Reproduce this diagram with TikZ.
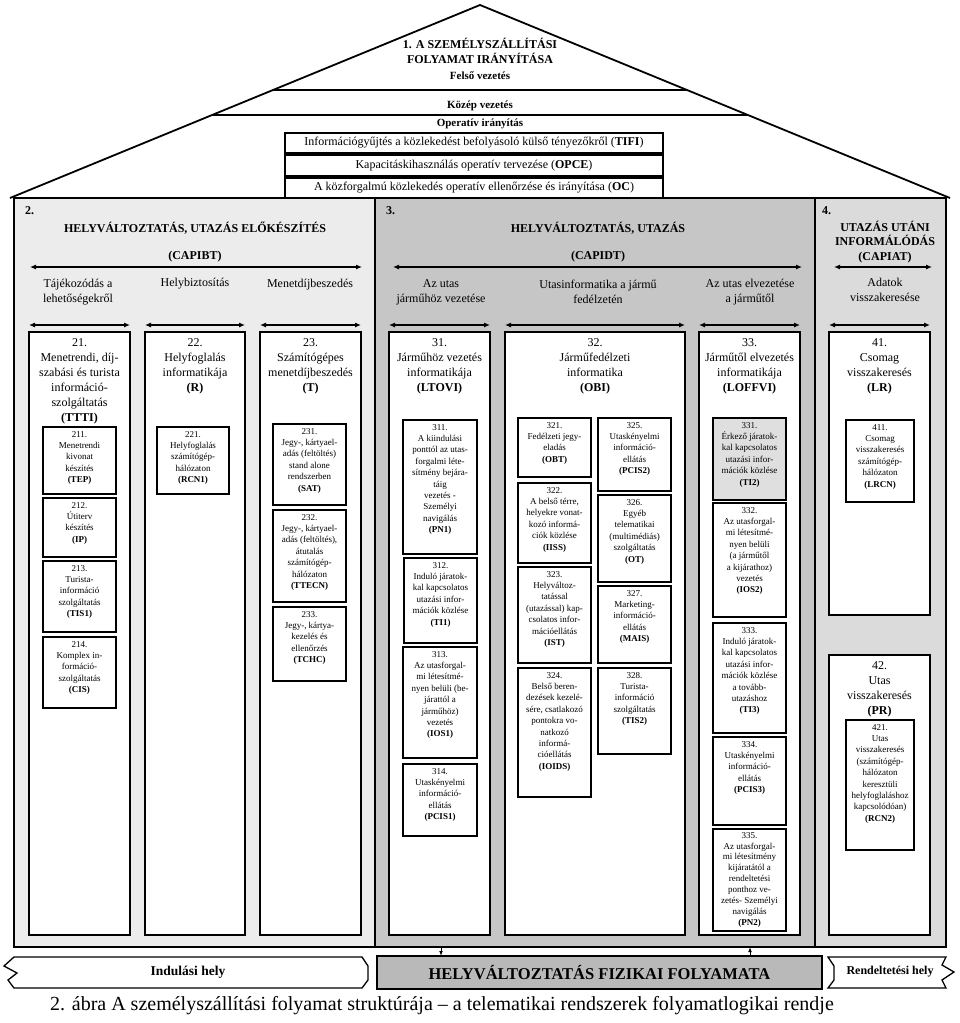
\documentclass[tikz,border=0pt]{standalone}
\usepackage{fontspec}
\setmainfont{Liberation Serif}
\usetikzlibrary{arrows.meta}
\tikzset{
    boxline/.style={draw, line width=1.3pt, fill=white},
    txt/.style={align=center, font=\fontsize{9}{11.4}\selectfont, inner sep=1pt},
    ttl/.style={align=center, font=\fontsize{12}{15}\selectfont, inner sep=1pt},
    head/.style={align=center, font=\fontsize{12}{14.5}\selectfont\bfseries, inner sep=1pt},
    span/.style={{Latex[length=6pt,width=5pt]}-{Latex[length=6pt,width=5pt]}, line width=1.1pt},
}
% box with text at its top
\newcommand{\subbox}[6]{%
    \draw[boxline] (#2,#3) rectangle (#4,#5);
    \node[txt, anchor=north] (#1) at ({(#2+#4)/2},#3+3) {#6};}
\newcommand{\colbox}[6]{%
    \draw[span] (#2,325) -- (#4,325);
    \draw[boxline, line width=1.6pt] (#2,#3) rectangle (#4,#5);
    \node[ttl, anchor=north] (#1) at ({(#2+#4)/2},#3+5) {#6};}
\begin{document}
\begin{tikzpicture}[x=1pt, y=-1pt]
    \useasboundingbox (0,0) rectangle (960,1023);
    % roof
    \draw[line width=1.8pt, line join=miter] (10,198) -- (480,5) -- (950,198);
    \draw[line width=1.2pt] (273,90) -- (687,90);
    \draw[line width=1.2pt] (212,115) -- (748,115);
    \node[head] (roof) at (480,51) {1. A SZEMÉLYSZÁLLÍTÁSI\\FOLYAMAT IRÁNYÍTÁSA};
    \node[head, font=\fontsize{11}{13}\selectfont\bfseries] (felso) at (480,76) {Felső vezetés};
    \node[head, font=\fontsize{11}{13}\selectfont\bfseries] (kozep) at (480,106) {Közép vezetés};
    \node[head, font=\fontsize{11}{13}\selectfont\bfseries] (oper) at (480,124) {Operatív irányítás};
    \draw[boxline] (285,133) rectangle (663,153);
    \node[font=\fontsize{12}{13}\selectfont] (tifi) at (474,143) {Információgyűjtés a közlekedést befolyásoló külső tényezőkről (\textbf{TIFI})};
    \draw[boxline] (285,155) rectangle (663,176);
    \node[font=\fontsize{12}{13}\selectfont] (opce) at (474,165.5) {Kapacitáskihasználás operatív tervezése (\textbf{OPCE})};
    \draw[boxline] (285,178) rectangle (663,198);
    \node[font=\fontsize{12}{13}\selectfont] (oc) at (474,188) {A közforgalmú közlekedés operatív ellenőrzése és irányítása (\textbf{OC})};

    % sections
    \fill[gray!15] (14,198) rectangle (375,947);
    \fill[gray!45] (375,198) rectangle (815,947);
    \fill[gray!28] (815,198) rectangle (946,947);
    \draw[line width=2.2pt] (14,198) rectangle (946,947);
    \draw[line width=2.2pt] (375,198) -- (375,947);
    \draw[line width=2.2pt] (815,198) -- (815,947);

    \node[head, anchor=west] (s2) at (24,211) {2.};
    \node[head] (s2h) at (195,228) {HELYVÁLTOZTATÁS, UTAZÁS ELŐKÉSZÍTÉS};
    \node[head] (s2c) at (195,257) {(CAPIBT)};
    \draw[span] (30,267) -- (362,267);
    \node[ttl] (s2a) at (78,292) {Tájékozódás a\\lehetőségekről};
    \node[ttl] (s2b) at (195,284) {Helybiztosítás};
    \node[ttl] (s2d) at (310,285) {Menetdíjbeszedés};

    \node[head, anchor=west] (s3) at (385,211) {3.};
    \node[head] (s3h) at (598,228) {HELYVÁLTOZTATÁS, UTAZÁS};
    \node[head] (s3c) at (598,257) {(CAPIDT)};
    \draw[span] (393,267) -- (802,267);
    \node[ttl] (s3a) at (441,292) {Az utas\\járműhöz vezetése};
    \node[ttl] (s3b) at (598,292) {Utasinformatika a jármű\\fedélzetén};
    \node[ttl] (s3d) at (750,292) {Az utas elvezetése\\a járműtől};

    \node[head, anchor=west] (s4) at (821,211) {4.};
    \node[head] (s4h) at (885,242) {UTAZÁS UTÁNI\\INFORMÁLÓDÁS\\(CAPIAT)};
    \draw[span] (834,267) -- (932,267);
    \node[ttl] (s4a) at (885,290) {Adatok\\visszakeresése};

    % columns
    \colbox{c21}{29}{332}{130}{935}{21.\\Menetrendi, díj-\\szabási és turista\\információ-\\szolgáltatás\\\textbf{(TTTI)}}
    \colbox{c22}{145}{332}{245}{935}{22.\\Helyfoglalás\\informatikája\\\textbf{(R)}}
    \colbox{c23}{260}{332}{361}{935}{23.\\Számítógépes\\menetdíjbeszedés\\\textbf{(T)}}
    \colbox{c31}{389}{332}{490}{935}{31.\\Járműhöz vezetés\\informatikája\\\textbf{(LTOVI)}}
    \colbox{c32}{505}{332}{685}{935}{32.\\Járműfedélzeti\\informatika\\\textbf{(OBI)}}
    \colbox{c33}{699}{332}{800}{935}{33.\\Járműtől elvezetés\\informatikája\\\textbf{(LOFFVI)}}
    \colbox{c41}{829}{332}{930}{615}{41.\\Csomag\\visszakeresés\\\textbf{(LR)}}
    \draw[boxline, line width=1.6pt] (829,655) rectangle (930,935);
    \node[ttl, anchor=north] (c42) at (879.5,660) {42.\\Utas\\visszakeresés\\\textbf{(PR)}};

    % sub boxes
    \subbox{b211}{43}{427}{116}{494}{211.\\Menetrendi\\kivonat\\készítés\\\textbf{(TEP)}}
    \subbox{b212}{43}{498}{116}{557}{212.\\Útiterv\\készítés\\\textbf{(IP)}}
    \subbox{b213}{43}{561}{116}{632}{213.\\Turista-\\információ\\szolgáltatás\\\textbf{(TIS1)}}
    \subbox{b214}{43}{637}{116}{708}{214.\\Komplex in-\\formáció-\\szolgáltatás\\\textbf{(CIS)}}
    \subbox{b221}{157}{427}{229}{494}{221.\\Helyfoglalás\\számítógép-\\hálózaton\\\textbf{(RCN1)}}
    \subbox{b231}{273}{424}{346}{505}{231.\\Jegy-, kártyael-\\adás (feltöltés)\\stand alone\\rendszerben\\\textbf{(SAT)}}
    \subbox{b232}{273}{510}{346}{602}{232.\\Jegy-, kártyael-\\adás (feltöltés),\\átutalás\\számítógép-\\hálózaton\\\textbf{(TTECN)}}
    \subbox{b233}{273}{607}{346}{681}{233.\\Jegy-, kártya-\\kezelés és\\ellenőrzés\\\textbf{(TCHC)}}
    \subbox{b311}{403}{420}{477}{554}{311.\\A kiindulási\\ponttól az utas-\\forgalmi léte-\\sítmény bejára-\\táig\\vezetés -\\Személyi\\navigálás\\\textbf{(PN1)}}
    \subbox{b312}{404}{558}{477}{643}{312.\\Induló járatok-\\kal kapcsolatos\\utazási infor-\\mációk közlése\\\textbf{(TI1)}}
    \subbox{b313}{403}{647}{477}{758}{313.\\Az utasforgal-\\mi létesítmé-\\nyen belüli (be-\\járattól a\\járműhöz)\\vezetés\\\textbf{(IOS1)}}
    \subbox{b314}{403}{764}{477}{836}{314.\\Utaskényelmi\\információ-\\ellátás\\\textbf{(PCIS1)}}
    \subbox{b321}{518}{418}{591}{477}{321.\\Fedélzeti jegy-\\eladás\\\textbf{(OBT)}}
    \subbox{b322}{518}{483}{591}{563}{322.\\A belső térre,\\helyekre vonat-\\kozó informá-\\ciók közlése\\\textbf{(IISS)}}
    \subbox{b323}{518}{567}{591}{663}{323.\\Helyváltoz-\\tatással\\(utazással) kap-\\csolatos infor-\\mációellátás\\\textbf{(IST)}}
    \subbox{b324}{518}{668}{591}{797}{324.\\Belső beren-\\dezések kezelé-\\sére, csatlakozó\\pontokra vo-\\natkozó\\informá-\\cióellátás\\\textbf{(IOIDS)}}
    \subbox{b325}{598}{418}{671}{491}{325.\\Utaskényelmi\\információ-\\ellátás\\\textbf{(PCIS2)}}
    \subbox{b326}{598}{495}{671}{582}{326.\\Egyéb\\telematikai\\(multimédiás)\\szolgáltatás\\\textbf{(OT)}}
    \subbox{b327}{598}{586}{671}{663}{327.\\Marketing-\\információ-\\ellátás\\\textbf{(MAIS)}}
    \subbox{b328}{598}{668}{671}{754}{328.\\Turista-\\információ\\szolgáltatás\\\textbf{(TIS2)}}
    \draw[boxline, fill=gray!25] (713,418) rectangle (786,500);
    \node[txt, anchor=north] (b331) at (749.5,421) {331.\\Érkező járatok-\\kal kapcsolatos\\utazási infor-\\mációk közlése\\\textbf{(TI2)}};
    \subbox{b332}{713}{503}{786}{617}{332.\\Az utasforgal-\\mi létesítmé-\\nyen belüli\\(a járműtől\\a kijárathoz)\\vezetés\\\textbf{(IOS2)}}
    \subbox{b333}{713}{623}{786}{733}{333.\\Induló járatok-\\kal kapcsolatos\\utazási infor-\\mációk közlése\\a tovább-\\utazáshoz\\\textbf{(TI3)}}
    \subbox{b334}{713}{737}{786}{825}{334.\\Utaskényelmi\\információ-\\ellátás\\\textbf{(PCIS3)}}
    \draw[boxline] (713,829) rectangle (786,931);
    \node[txt, anchor=north, font=\fontsize{9}{10.9}\selectfont] (b335) at (749.5,831) {335.\\Az utasforgal-\\mi létesítmény\\kijáratától a\\rendeltetési\\ponthoz ve-\\zetés- Személyi\\navigálás\\\textbf{(PN2)}};
    \subbox{b411}{846}{420}{914}{502}{411.\\Csomag\\visszakeresés\\számítógép-\\hálózaton\\\textbf{(LRCN)}}
    \subbox{b421}{846}{720}{914}{850}{421.\\Utas\\visszakeresés\\(számítógép-\\hálózaton\\keresztüli\\helyfoglaláshoz\\kapcsolódóan)\\\textbf{(RCN2)}}

    % physical process strip
    \draw[line width=1.3pt, fill=white] (14,957) -- (362,957) -- (368,966) -- (368,980) -- (362,988) -- (14,988)
        -- (8,980) -- (17,973) -- (4,966) -- cycle;
    \node[head, font=\fontsize{13.5}{15}\selectfont\bfseries] (indul) at (188,972) {Indulási hely};
    \draw[line width=2.2pt, fill=gray!55] (377,956) rectangle (822,989);
    \node[head, font=\fontsize{16.5}{18}\selectfont\bfseries] (fiz) at (599.5,973) {HELYVÁLTOZTATÁS FIZIKAI FOLYAMATA};
    \draw[line width=1.3pt, fill=white] (828,957) -- (946,957) -- (942,965) -- (954,972) -- (942,980) -- (946,988)
        -- (828,988) -- (834,980) -- (834,966) -- cycle;
    \node[head, font=\fontsize{12}{13}\selectfont\bfseries] (rend) at (890,972) {Rendeltetési hely};
    \draw[-{Latex[length=5pt]}, line width=1pt] (441,947) -- (441,956);
    \draw[-{Latex[length=5pt]}, line width=1pt] (750,956) -- (750,947);

    \node[font=\fontsize{20}{22}\selectfont] (caption) at (442,1006) {2. ábra A személyszállítási folyamat struktúrája – a telematikai rendszerek folyamatlogikai rendje};
\end{tikzpicture}
\end{document}
